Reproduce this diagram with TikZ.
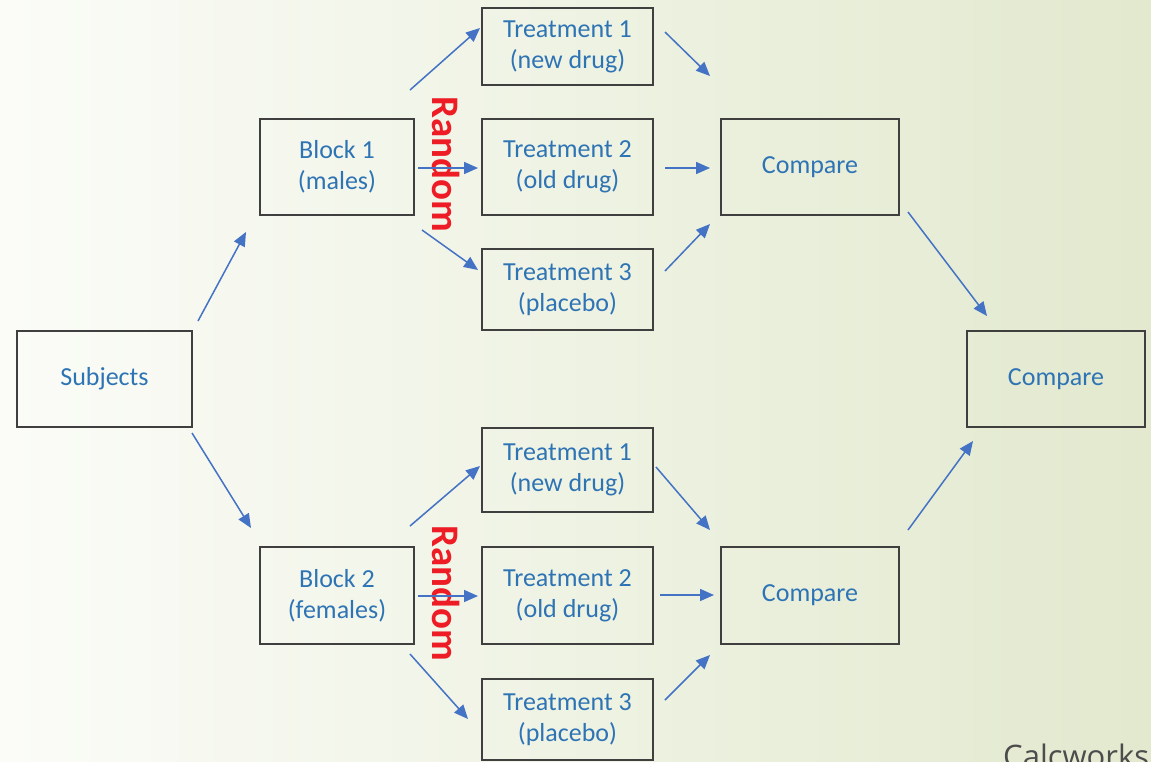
\documentclass[tikz,border=0pt]{standalone}
\usepackage{fontspec}
\setmainfont{Carlito}
\newfontfamily\logofont{Open Sans}
\usetikzlibrary{arrows.meta}
\definecolor{txtblue}{HTML}{2E74B5}
\definecolor{arrblue}{HTML}{4472C4}
\definecolor{boxgray}{HTML}{3F3F3F}
\definecolor{rndred}{HTML}{EE1C25}
\definecolor{bgleft}{HTML}{FBFCF8}
\definecolor{bgmid}{HTML}{F4F7EB}
\definecolor{bgright}{HTML}{E2E9CE}
\tikzset{
  box/.style={draw=boxgray, line width=1.3pt, inner sep=0pt, align=center,
    text=txtblue, font=\fontsize{26}{31}\selectfont},
  arr/.style={draw=arrblue, line width=1.5pt, -{Triangle[length=14pt,width=12pt]}},
  rnd/.style={text=rndred, font=\bfseries\fontsize{39}{40}\selectfont, rotate=-90, inner sep=0pt}
}
\begin{document}
\begin{tikzpicture}[x=1pt,y=-1pt]
\useasboundingbox (0,0) rectangle (1151,761);
\shade[left color=bgleft, middle color=bgmid, right color=bgright] (0,0) rectangle (1151,761);
% nodes
\node[box, minimum width=175pt, minimum height=96pt] (subj) at (104.5,379) {Subjects};
\node[box, minimum width=154pt, minimum height=96pt] (b1) at (337,167) {Block 1\\(males)};
\node[box, minimum width=154pt, minimum height=97pt] (b2) at (337,595.5) {Block 2\\(females)};
\node[box, minimum width=171pt, minimum height=77pt] (t1a) at (567.5,46.5) {Treatment 1\\(new drug)};
\node[box, minimum width=171pt, minimum height=96pt] (t2a) at (567.5,167) {Treatment 2\\(old drug)};
\node[box, minimum width=171pt, minimum height=81pt] (t3a) at (567.5,289.5) {Treatment 3\\(placebo)};
\node[box, minimum width=178pt, minimum height=96pt] (c1) at (810,167) {Compare};
\node[box, minimum width=178pt, minimum height=96pt] (cr) at (1056,379) {Compare};
\node[box, minimum width=171pt, minimum height=84pt] (t1b) at (567.5,470) {Treatment 1\\(new drug)};
\node[box, minimum width=171pt, minimum height=97pt] (t2b) at (567.5,595.5) {Treatment 2\\(old drug)};
\node[box, minimum width=171pt, minimum height=81pt] (t3b) at (567.5,719.5) {Treatment 3\\(placebo)};
\node[box, minimum width=178pt, minimum height=97pt] (c2) at (810,595.5) {Compare};
% Random labels
\node[rnd] (r1) at (446,164.5) {Random};
\node[rnd] (r2) at (446,593.5) {Random};
% arrow end points
\coordinate (s1s) at (198,321); \coordinate (s1e) at (246,232);
\coordinate (s2s) at (192,433); \coordinate (s2e) at (251,528);
\coordinate (a1s) at (410,90);  \coordinate (a1e) at (480,28);
\coordinate (a2s) at (418,168); \coordinate (a2e) at (478,168);
\coordinate (a3s) at (422,230); \coordinate (a3e) at (478,270);
\coordinate (p1s) at (665,32);  \coordinate (p1e) at (710,76);
\coordinate (p2s) at (665,168); \coordinate (p2e) at (710,168);
\coordinate (p3s) at (665,271); \coordinate (p3e) at (710,224);
\coordinate (q1s) at (908,212); \coordinate (q1e) at (987,316);
\coordinate (q2s) at (908,530); \coordinate (q2e) at (973,441);
\coordinate (d1s) at (410,526); \coordinate (d1e) at (480,466);
\coordinate (d2s) at (418,596); \coordinate (d2e) at (478,596);
\coordinate (d3s) at (410,654); \coordinate (d3e) at (468,719);
\coordinate (e1s) at (656,467); \coordinate (e1e) at (710,530);
\coordinate (e2s) at (660,595); \coordinate (e2e) at (714,595);
\coordinate (e3s) at (665,700); \coordinate (e3e) at (710,655);
\foreach \a in {s1,s2,a1,a2,a3,p1,p2,p3,q1,q2,d1,d2,d3,e1,e2,e3}
  \draw[arr] (\a s) -- (\a e);
% logo
\node[anchor=base west, inner sep=0pt, text=black!70, font=\logofont\fontsize{31}{31}\selectfont] (logo) at (1003,767) {Calcworks};
\end{tikzpicture}
\end{document}
